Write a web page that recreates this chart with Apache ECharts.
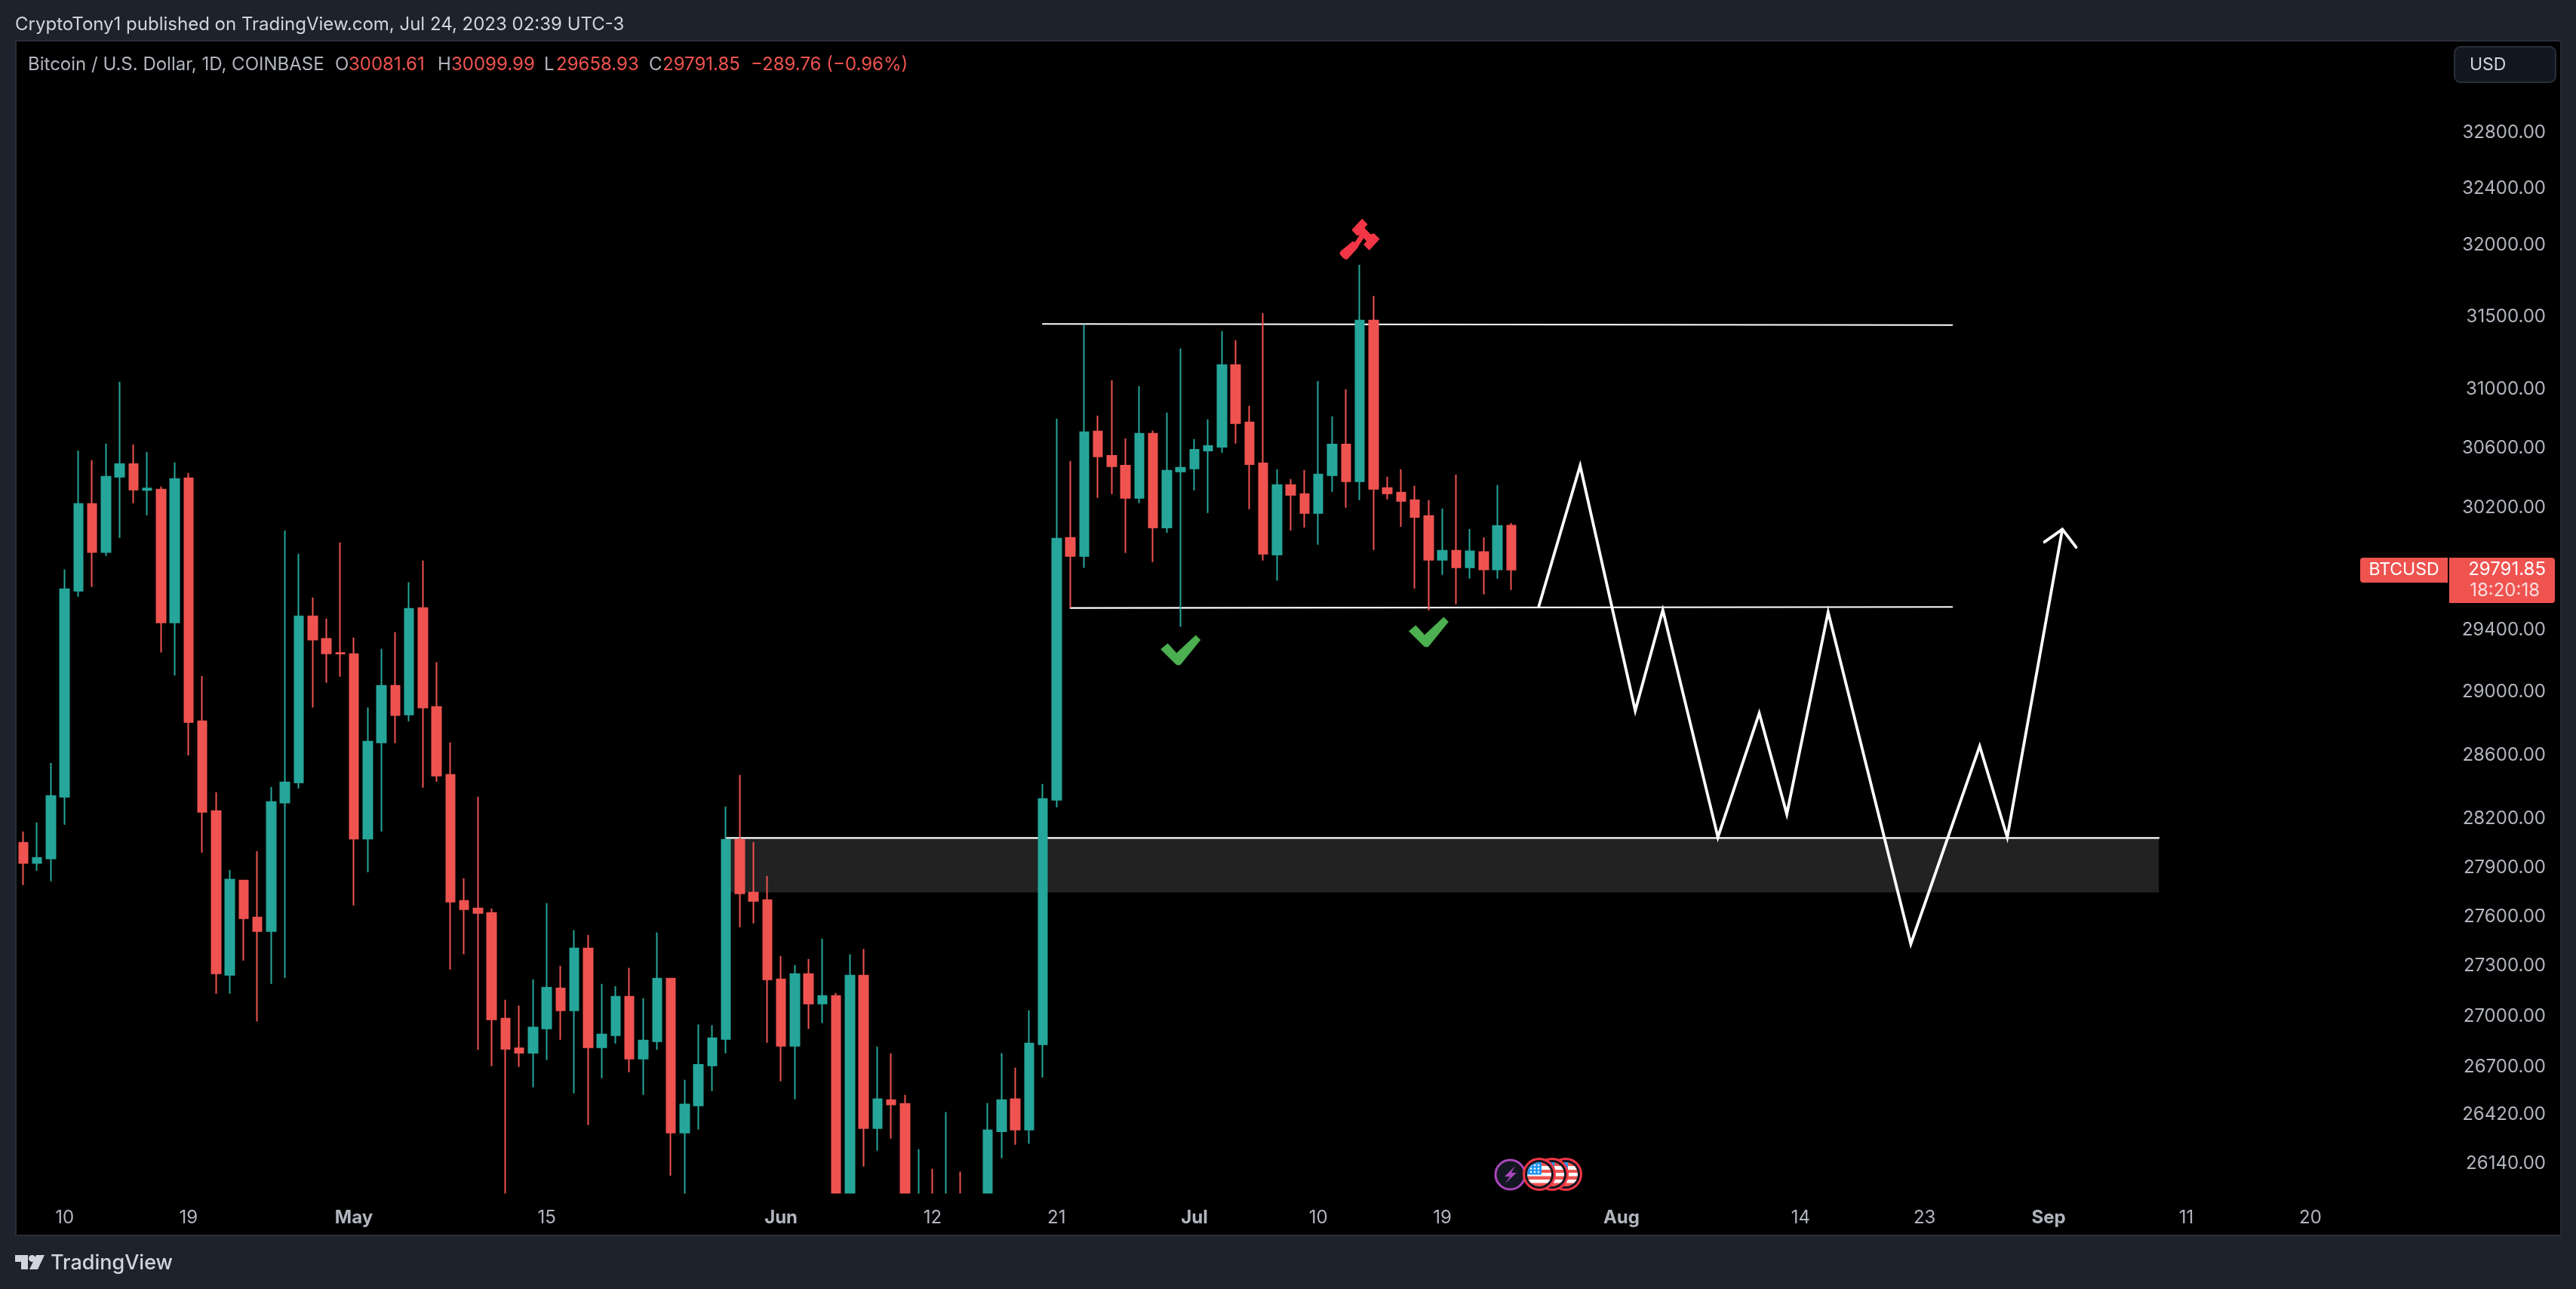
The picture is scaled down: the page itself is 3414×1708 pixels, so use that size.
<!DOCTYPE html>
<html>
<head>
<meta charset="utf-8">
<style>html,body{margin:0;padding:0;background:#1e222d}#c{width:3414px;height:1708px}</style>
<script src="https://cdn.jsdelivr.net/npm/echarts@6/dist/echarts.min.js"></script>
</head>
<body>
<div id="c"></div>
<script>
// [open, close, low, high] per day from 2023-04-07
const candles = [
[28052,27927,27792,28122],[27927,27959,27880,28178],[27955,28343,27815,28550],[28338,29664,28164,29793],
[29654,30226,29615,30584],[30226,29907,29679,30519],[29907,30408,29882,30631],[30408,30493,30001,31051],
[30493,30322,30231,30625],[30320,30330,30151,30574],[30322,29448,29253,30342],[29448,30393,29106,30503],
[30398,28808,28597,30433],[28813,28244,27992,29102],[28249,27257,27135,28366],[27248,27825,27135,27885],
[27820,27589,27334,27820],[27594,27512,26969,28001],[27512,28305,27193,28399],[28301,28428,27229,30050],
[28428,29487,28390,29897],[29487,29336,28900,29610],[29341,29248,29058,29472],[29250,29246,29097,29971],
[29243,28078,27667,29350],[28078,28684,27871,28900],[28679,29039,28122,29277],[29039,28852,28674,29385],
[28856,29536,28813,29709],[29541,28900,28395,29852],[28904,28470,28432,29190],[28475,27690,27279,28679],
[27695,27644,27371,27834],[27649,27621,26802,28338],[27621,26982,26705,27649],[26986,26807,25800,27099],
[26811,26784,26700,27063],[26784,26933,26581,27220],[26928,27171,26740,27681],[27166,27036,26861,27302],
[27036,27407,26546,27517],[27407,26816,26361,27489],[26816,26892,26634,27193],[26888,27117,26838,27180],
[27117,26749,26669,27289],[26749,26856,26537,27108],[26852,27225,26802,27503],[27225,26317,26069,27225],
[26317,26480,25870,26625],[26475,26713,26334,26951],[26709,26870,26559,26947],[26865,28071,26780,28277],
[28071,27741,27535,28475],[27746,27695,27558,28057],[27700,27220,26843,27848],[27220,26825,26616,27361],
[26825,27252,26511,27306],[27252,27076,26924,27343],[27076,27121,26960,27466],[27121,25730,25390,27139],
[25730,27243,25350,27371],[27243,26343,26121,27403],[26343,26511,26212,26820],[26506,26480,26282,26780],
[26484,25850,25380,26537],[25850,25920,25600,26221],[25920,25900,25650,26108],[25900,25950,25700,26436],
[25950,25120,24800,26091],[25120,25580,24800,25740],[25580,26330,25180,26489],[26325,26506,26169,26782],
[26511,26334,26247,26696],[26334,26838,26252,27036],[26834,28324,26638,28418],[28319,29996,28272,30800],
[30001,29882,29541,30514],[29882,30707,29803,31446],[30713,30544,30267,30820],[30549,30478,30292,31061],
[30483,30267,29902,30666],[30267,30697,30231,31020],[30697,30070,29842,30718],[30070,30448,30035,30841],
[30443,30468,29419,31280],[30463,30589,30317,30661],[30584,30615,30166,30795],[30610,31165,30569,31399],
[31165,30769,30631,31337],[30774,30493,30191,30887],[30498,29897,29852,31524],[29892,30352,29719,30458],
[30352,30287,30050,30393],[30292,30166,30070,30453],[30166,30423,29956,31056],[30418,30625,30307,30815],
[30625,30377,30201,31000],[30377,31472,30251,31862],[31472,30327,29921,31644],[30332,30297,30257,30408],
[30302,30246,30075,30458],[30251,30140,29669,30347],[30146,29857,29526,30251],[29857,29916,29758,30196],
[29916,29807,29565,30423],[29807,29912,29733,30060],[29907,29793,29630,30005],[29793,30080,29733,30352],
[30081.61,29791.85,29658.93,30099.99]
];
const priceTicks = [32800,32400,32000,31500,31000,30600,30200,29400,29000,28600,28200,27900,27600,27300,27000,26700,26420,26140];
const timeTicks = {'04-10':'10','04-19':'19','05-01':'May','05-15':'15','06-01':'Jun','06-12':'12','06-21':'21','07-01':'Jul','07-10':'10','07-19':'19','08-01':'Aug','08-14':'14','08-23':'23','09-01':'Sep','09-11':'11','09-20':'20'};
// drawings: [bar index, price]
const resistanceLine = [[74,31449],[140,31441]];
const supportLine = [[76,29541],[140,29548]];
const zoneTopLine = [[51,28082],[155,28082]];
const zoneBox = [[51,155,28082,27747]];
const forecastPath = [[110,29552],[113,30482],[117,28881],[119,29528],[123,28086],[126,28864],[128,28230],[131,29515],[137,27434],[142,28656],[144,28086],[148,30058]];
const arrowHead = [[146.7,29974],[148,30058],[149,29939]];
const gavelMark = [[97,32043]];
const checkMarks = [[84,29268],[102,29385]];

const categories = [];
for (let d = new Date(Date.UTC(2023,3,7)), i = 0; i < 184; i++, d.setUTCDate(d.getUTCDate()+1)) {
  categories.push(d.toISOString().slice(5,10));
}
const FONT = 'Inter, "Noto Sans", sans-serif';
const GRID = {left:21.67, width:3359.84, top:54, height:1527.5};
const UP='#26a69a', DOWN='#ef5350';
const GAVEL='path://M56 0L70 14L62 23L77 38L86 36L100 50L74 78L60 64L67 55L60 48L48 66L45 72L20 99Q14 102 8 96L1 88Q-1 84 2 80L33 55L38 58L50 40L44 42L30 28Z';
const CHECK='path://M0 46L18 27L40 58L88 0L100 16L50 96Q45 100 39 96Z';

function txt(x,y,text,fill,size,extra){
  return {type:'text',z:50,style:{x:x,y:y,text:text,fill:fill,font:(extra&&extra.weight||'400')+' '+size+'px '+FONT,textVerticalAlign:'middle',textAlign:(extra&&extra.align)||'left'}};
}
const flagSvg = "<svg xmlns='http://www.w3.org/2000/svg' width='64' height='64'><clipPath id='c'><circle cx='32' cy='32' r='32'/></clipPath><g clip-path='url(#c)'><rect width='64' height='64' fill='#ef5350'/><rect y='10' width='64' height='10' fill='#fff'/><rect y='28' width='64' height='9' fill='#fff'/><rect y='46' width='64' height='9' fill='#fff'/><rect width='38' height='33' fill='#2196f3'/><g fill='#fff'><circle cx='10' cy='8' r='2.5'/><circle cx='20' cy='8' r='2.5'/><circle cx='30' cy='8' r='2.5'/><circle cx='10' cy='17' r='2.5'/><circle cx='20' cy='17' r='2.5'/><circle cx='30' cy='17' r='2.5'/><circle cx='10' cy='26' r='2.5'/><circle cx='20' cy='26' r='2.5'/><circle cx='30' cy='26' r='2.5'/></g></g></svg>";
const flagUri = 'data:image/svg+xml,'+encodeURIComponent(flagSvg);
function flag(cx,cy,z){
  return [
    {type:'circle',z:z,shape:{cx:cx,cy:cy,r:20.5},style:{fill:'#131722',stroke:'#f23645',lineWidth:3}},
    {type:'image',z:z,style:{image:flagUri,x:cx-16,y:cy-16,width:32,height:32}}
  ];
}
const graphics = [
  {type:'rect',z:-5,silent:true,shape:{x:20,y:53,width:3374,height:1585},style:{fill:'#2a2e39'}},
  {type:'rect',z:-4,silent:true,shape:{x:22,y:55,width:3371,height:1581},style:{fill:'#000000'}},
  // time-scale strip and footer sit above the price pane, hiding candle parts below its lower edge
  {type:'rect',z:10,silent:true,shape:{x:22,y:1581.5,width:3371,height:54.5},style:{fill:'#000000'}},
  {type:'rect',z:10,silent:true,shape:{x:0,y:1636,width:3414,height:72},style:{fill:'#1e222d'}},
  {type:'rect',z:10,silent:true,shape:{x:20,y:1636,width:3374,height:2},style:{fill:'#2a2e39'}},
  txt(20,33,'CryptoTony1 published on TradingView.com, Jul 24, 2023 02:39 UTC-3','#d1d4dc',24),
  txt(37,86,'Bitcoin / U.S. Dollar, 1D, COINBASE','#b2b5be',24),
  txt(444,86,'O','#b2b5be',24),txt(462,86,'30081.61',DOWN,24),
  txt(580,86,'H','#b2b5be',24),txt(598,86,'30099.99',DOWN,24),
  txt(721,86,'L','#b2b5be',24),txt(737,86,'29658.93',DOWN,24),
  txt(860,86,'C','#b2b5be',24),txt(878,86,'29791.85',DOWN,24),
  txt(995,86,'\u2212289.76 (\u22120.96%)',DOWN,24),
  {type:'rect',z:50,shape:{x:3253,y:62,width:134,height:47,r:8},style:{fill:'#131722',stroke:'#2a2e39',lineWidth:2}},
  txt(3273,86,'USD','#d1d4dc',23),
  {type:'rect',z:50,shape:{x:3128,y:739,width:116,height:33,r:[4,0,0,4]},style:{fill:DOWN}},
  txt(3186,755.5,'BTCUSD','#ffffff',23,{align:'center'}),
  {type:'rect',z:50,shape:{x:3246,y:739,width:140,height:60,r:[0,4,4,0]},style:{fill:DOWN}},
  txt(3374,755,'29791.85','#ffffff',24,{align:'right'}),
  txt(3366,783,'18:20:18','#f9dcdb',24,{align:'right'}),
  // logo
  {type:'polygon',z:50,shape:{points:[[20,1663],[37,1663],[37,1682],[28,1682],[28,1672],[20,1672]]},style:{fill:'#d1d4dc'}},
  {type:'circle',z:50,shape:{cx:42.5,cy:1667.5,r:4.5},style:{fill:'#d1d4dc'}},
  {type:'polygon',z:50,shape:{points:[[48,1663],[59,1663],[50,1682],[39,1682]]},style:{fill:'#d1d4dc'}},
  txt(67,1674,'TradingView','#d1d4dc',27,{weight:'500'})
].concat(
  flag(2075,1556,40),flag(2057,1556,41),
  [{type:'circle',z:42,shape:{cx:2001.5,cy:1556.5,r:19.5},style:{fill:'#131722',stroke:'#ab47bc',lineWidth:3}},
   {type:'polygon',z:42,shape:{points:[[2008,1545],[1994,1559],[2001,1559],[1995,1568],[2010,1554],[2003,1554]]},style:{fill:'#ab47bc'}}],
  flag(2040,1556,43)
);

const overlay = {xAxisIndex:1,yAxisIndex:0,animation:false,silent:true};
function line(data,width,z){
  return Object.assign({type:'line',data:data,showSymbol:false,symbol:'none',z:z||2,lineStyle:{color:'#ffffff',width:width,cap:'round',join:'miter'}},overlay);
}
const chart = echarts.init(document.getElementById('c'),null,{renderer:'canvas',devicePixelRatio:1});
chart.setOption({
  animation:false,
  backgroundColor:'#1e222d',
  textStyle:{fontFamily:FONT},
  graphic:graphics,
  grid:GRID,
  xAxis:[
    {type:'category',z:20,data:categories,boundaryGap:true,axisLine:{show:false},axisTick:{show:false},splitLine:{show:false},
     axisLabel:{margin:20,interval:function(i,v){return v in timeTicks;},hideOverlap:false,
       formatter:function(v){const t=timeTicks[v];return /[A-Z]/.test(t)?'{m|'+t+'}':'{d|'+t+'}';},
       rich:{m:{fontFamily:FONT,fontSize:24,fontWeight:700,color:'#b2b5be'},d:{fontFamily:FONT,fontSize:24,color:'#b2b5be'}}}},
    {type:'value',min:-0.5,max:183.5,show:false,splitLine:{show:false}}
  ],
  yAxis:[{type:'log',logBase:10,min:25966,max:33473.6,position:'right',axisLine:{show:false},axisTick:{show:false},splitLine:{show:false},minorSplitLine:{show:false},
    axisLabel:{inside:true,margin:7.5,padding:[6,0,0,0],customValues:priceTicks,color:'#b2b5be',fontFamily:FONT,fontSize:24,formatter:function(v){return Number(v).toFixed(2);}}}],
  series:[
    Object.assign({type:'custom',data:zoneBox,z:1,clip:true,encode:{x:[0,1],y:[2,3]},
      renderItem:function(p,api){
        const a=api.coord([api.value(0),api.value(2)]),b=api.coord([api.value(1),api.value(3)]);
        return {type:'rect',shape:{x:a[0],y:a[1],width:b[0]-a[0],height:b[1]-a[1]},style:{fill:'#222222'}};
      }},overlay),
    line(zoneTopLine,2.2),line(resistanceLine,2.2),line(supportLine,2.2),
    line(forecastPath,3.8,3),line(arrowHead,3.8,3),
    {type:'candlestick',data:candles,xAxisIndex:0,yAxisIndex:0,barWidth:12,z:5,animation:false,silent:true,
     itemStyle:{color:UP,color0:DOWN,borderColor:UP,borderColor0:DOWN,borderWidth:2}},
    Object.assign({type:'scatter',data:gavelMark,symbol:GAVEL,symbolSize:[53,54],symbolKeepAspect:false,z:6,itemStyle:{color:'#f23645',opacity:1}},overlay),
    Object.assign({type:'scatter',data:checkMarks,symbol:CHECK,symbolSize:[53,40],symbolKeepAspect:false,z:6,itemStyle:{color:'#4caf50',opacity:1}},overlay)
  ]
});
</script>
</body>
</html>
